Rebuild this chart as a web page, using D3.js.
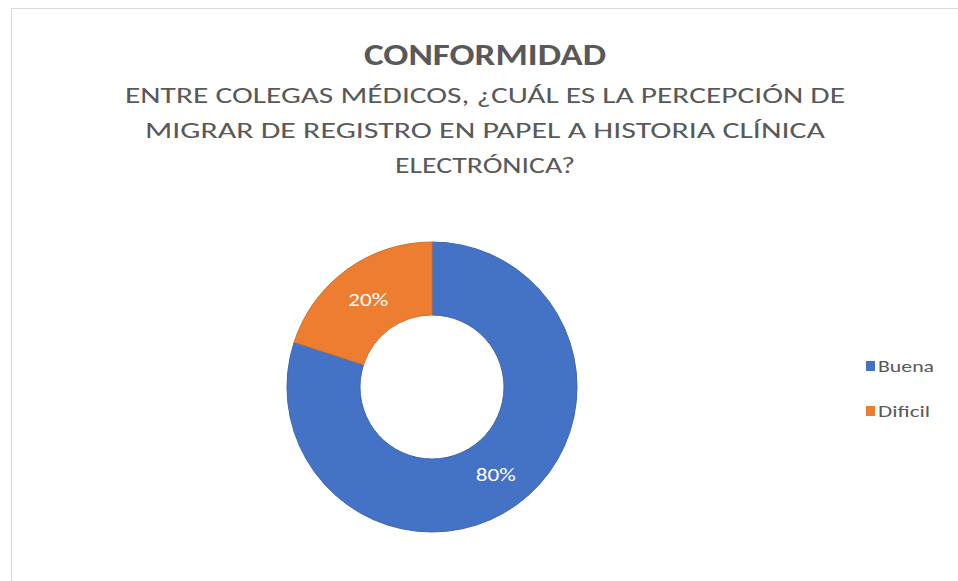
<!DOCTYPE html>
<html>
<head>
<meta charset="utf-8">
<script src="https://cdn.jsdelivr.net/npm/d3@7/dist/d3.min.js"></script>
<style>
  html, body { margin: 0; padding: 0; background: #ffffff; }
  svg { display: block; }
</style>
</head>
<body>
<svg id="chart" width="958" height="581"></svg>
<script>
const categories = ["Buena", "Dificil"];
const values = [80, 20];
const labels = ["80%", "20%"];
const colors = ["#4472C4", "#ED7D31"];
const title = "CONFORMIDAD";
const subtitleLines = [
  "ENTRE COLEGAS MÉDICOS, ¿CUÁL ES LA PERCEPCIÓN DE",
  "MIGRAR DE REGISTRO EN PAPEL A HISTORIA CLÍNICA",
  "ELECTRÓNICA?"
];

const svg = d3.select("#chart");
const font = "Carlito, 'Open Sans', 'Liberation Sans', sans-serif";

// chart area border (extends beyond right / bottom)
svg.append("rect")
  .attr("x", 11.5).attr("y", 8.5)
  .attr("width", 1000).attr("height", 1000)
  .attr("fill", "#fff")
  .attr("stroke", "#d9d9d9").attr("stroke-width", 1);

const cx = 485;

svg.append("text")
  .attr("x", cx).attr("y", 65)
  .attr("text-anchor", "middle")
  .attr("font-family", font)
  .attr("font-weight", "bold")
  .attr("font-size", 30)
  .attr("fill", "#595959")
  .attr("textLength", 242)
  .attr("lengthAdjust", "spacingAndGlyphs")
  .text(title);

const subWidths = [720, 680, 180];
subtitleLines.forEach((line, i) => {
  svg.append("text")
    .attr("x", cx).attr("y", 103 + i * 35)
    .attr("text-anchor", "middle")
    .attr("font-family", font)
    .attr("font-size", 22.5)
    .attr("fill", "#595959")
    .attr("textLength", subWidths[i])
    .attr("lengthAdjust", "spacingAndGlyphs")
    .text(line);
});

// donut
const center = [432, 387];
const outerR = 145, innerR = 72;
const pie = d3.pie().sort(null).value(d => d)
  .startAngle(0).endAngle(2 * Math.PI);
const arcs = pie(values);
const arc = d3.arc().innerRadius(innerR).outerRadius(outerR);
const labelArc = d3.arc().innerRadius((innerR + outerR) / 2).outerRadius((innerR + outerR) / 2);

const color = d3.scaleOrdinal().domain(categories).range(colors);

const g = svg.append("g").attr("transform", `translate(${center[0]},${center[1]})`);
g.selectAll("path.slice")
  .data(arcs)
  .join("path")
  .attr("class", "slice")
  .attr("d", arc)
  .attr("fill", (d, i) => color(categories[i]))
  .attr("stroke", (d, i) => d3.color(color(categories[i])).darker(0.3))
  .attr("stroke-width", 1);

g.selectAll("text.lbl")
  .data(arcs)
  .join("text")
  .attr("class", "lbl")
  .attr("transform", d => `translate(${labelArc.centroid(d)})`)
  .attr("text-anchor", "middle")
  .attr("dy", "0.35em")
  .attr("font-family", font)
  .attr("font-size", 19)
  .attr("fill", "#ffffff")
  .attr("textLength", 40)
  .attr("lengthAdjust", "spacingAndGlyphs")
  .text((d, i) => labels[i]);

// legend
const legend = svg.append("g").attr("transform", "translate(866,0)");
const legendY = d3.scalePoint().domain(categories).range([366, 411]);
const legendW = [56, 52];
categories.forEach((c, i) => {
  const y = legendY(c);
  legend.append("rect")
    .attr("x", 0).attr("y", y - 5)
    .attr("width", 9).attr("height", 10)
    .attr("fill", color(c));
  legend.append("text")
    .attr("x", 12).attr("y", y)
    .attr("dy", "0.35em")
    .attr("font-family", font)
    .attr("font-size", 16)
    .attr("fill", "#595959")
    .attr("textLength", legendW[i])
    .attr("lengthAdjust", "spacingAndGlyphs")
    .text(c);
});
</script>
</body>
</html>
